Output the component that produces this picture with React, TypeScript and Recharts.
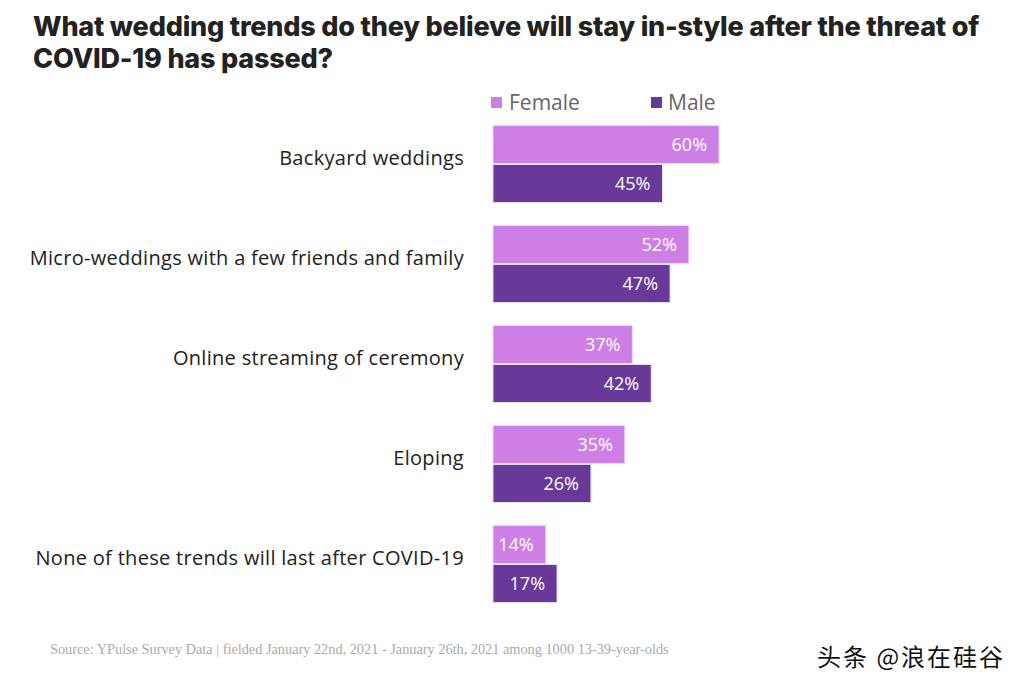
import React from "react";
import { BarChart, Bar, XAxis, YAxis, LabelList } from "recharts";

const categories = [
  "Backyard weddings",
  "Micro-weddings with a few friends and family",
  "Online streaming of ceremony",
  "Eloping",
  "None of these trends will last after COVID-19",
];
const female = [60, 52, 37, 35, 14];
const male = [45, 47, 42, 26, 17];

const data = categories.map((name, i) => ({
  name,
  female: female[i],
  male: male[i],
}));

const FEMALE = "#ce7fe6";
const MALE = "#673a9a";
const FONT = "'Open Sans', 'Noto Sans', sans-serif";

const CategoryTick = ({ x, y, payload }: any) => (
  <text
    x={464}
    y={y}
    dy={1}
    textAnchor="end"
    fill="#222"
    fontSize={20}
    letterSpacing={0.3}
    fontFamily={FONT}
  >
    {payload.value}
  </text>
);

const pct = (v: any) => `${v}%`;

const App: React.FC = () => {
  return (
    <div
      style={{
        position: "absolute",
        left: 0,
        top: 0,
        width: 1024,
        height: 687,
        background: "#fff",
        overflow: "hidden",
      }}
    >
      <div
        style={{
          position: "absolute",
          left: 33,
          top: 11,
          width: 995,
          whiteSpace: "nowrap",
          fontFamily: "Inter, sans-serif",
          fontWeight: 800,
          fontSize: 27,
          lineHeight: "32px",
          color: "#222",
          letterSpacing: -0.2,
        }}
      >
        What wedding trends do they believe will stay in-style after the threat of
        <br />
        COVID-19 has passed?
      </div>

      <div
        style={{
          position: "absolute",
          top: 88,
          left: 491,
          fontFamily: FONT,
          fontSize: 21,
          color: "#666",
          display: "flex",
          alignItems: "center",
        }}
      >
        <span style={{ width: 11, height: 11, background: FEMALE, display: "inline-block" }} />
        <span style={{ marginLeft: 7, width: 142 }}>Female</span>
        <span style={{ width: 11, height: 11, background: MALE, display: "inline-block" }} />
        <span style={{ marginLeft: 6 }}>Male</span>
      </div>

      <div style={{ position: "absolute", left: 0, top: 0 }}>
        <BarChart
          width={1024}
          height={687}
          data={data}
          layout="vertical"
          margin={{ top: 113.5, right: 154.3, bottom: 73.5, left: 0 }}
          barGap={1}
          barCategoryGap={23}
        >
          <XAxis type="number" domain={[0, 100]} hide />
          <YAxis
            type="category"
            dataKey="name"
            width={493}
            axisLine={false}
            tickLine={false}
            tick={<CategoryTick />}
          />
          <Bar
            dataKey="female"
            fill={FEMALE}
            stroke="#ecdcf4"
            strokeWidth={1}
            barSize={38}
            isAnimationActive={false}
          >
            <LabelList
              dataKey="female"
              position="insideRight"
              offset={12}
              formatter={pct}
              fill="#fff"
              fontSize={18}
              fontFamily={FONT}
            />
          </Bar>
          <Bar
            dataKey="male"
            fill={MALE}
            stroke="#e4dcee"
            strokeWidth={1}
            barSize={38}
            isAnimationActive={false}
          >
            <LabelList
              dataKey="male"
              position="insideRight"
              offset={12}
              formatter={pct}
              fill="#fff"
              fontSize={18}
              fontFamily={FONT}
            />
          </Bar>
        </BarChart>
      </div>

      <div
        style={{
          position: "absolute",
          left: 50,
          top: 641,
          whiteSpace: "nowrap",
          fontFamily: "'Liberation Serif', 'DejaVu Serif', serif",
          fontSize: 14.3,
          color: "#aaa",
        }}
      >
        Source: YPulse Survey Data | fielded January 22nd, 2021 - January 26th, 2021 among 1000 13-39-year-olds
      </div>

      <div
        style={{
          position: "absolute",
          left: 817,
          top: 638,
          whiteSpace: "nowrap",
          fontFamily: "'Noto Sans CJK SC', sans-serif",
          fontSize: 24,
          letterSpacing: 2,
          color: "#111",
        }}
      >
        头条 @浪在硅谷
      </div>
    </div>
  );
};

export default App;
